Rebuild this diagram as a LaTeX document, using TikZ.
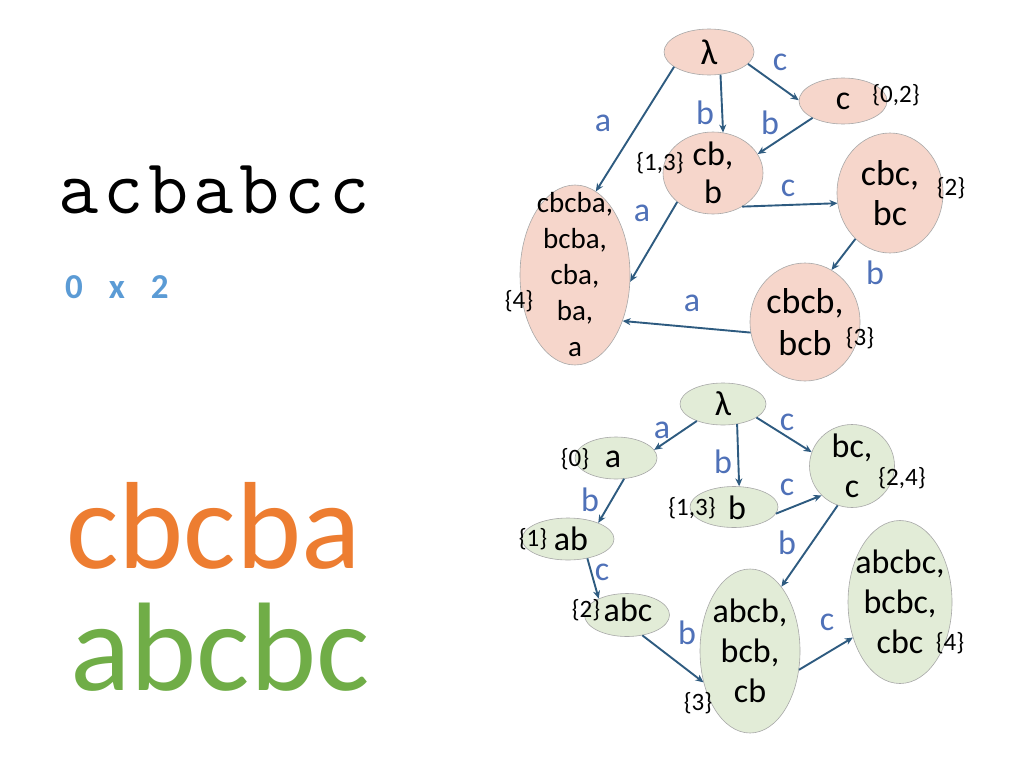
\documentclass[tikz,border=0pt]{standalone}
\usepackage{fontspec}
\setmainfont{Carlito}
\usetikzlibrary{shapes.geometric,arrows.meta}
\definecolor{pinkfill}{HTML}{F6D6CB}
\definecolor{greenfill}{HTML}{E2ECD7}
\definecolor{edgegray}{HTML}{A8A8A8}
\definecolor{arrowc}{HTML}{2E5B80}
\definecolor{labc}{HTML}{4F71B8}
\definecolor{numc}{HTML}{5B9BD5}
\definecolor{orangec}{HTML}{ED7D31}
\definecolor{greenc}{HTML}{70AD47}
\tikzset{
  pk/.style={ellipse, draw=edgegray, line width=0.6pt, fill=pinkfill, inner sep=0pt},
  gn/.style={ellipse, draw=edgegray, line width=0.6pt, fill=greenfill, inner sep=0pt},
  nt/.style={inner sep=0pt, align=center, font=\fontsize{#1}{#1}\selectfont},
  arr/.style={draw=arrowc, line width=1.9pt, -{Stealth[length=8pt,width=7pt]}},
  elab/.style={text=labc, inner sep=0pt, font=\fontsize{34}{34}\selectfont},
  setl/.style={inner sep=0pt, font=\fontsize{25}{25}\selectfont},
}
\newcommand{\lsp}{\kern5pt\relax}
\begin{document}
\begin{tikzpicture}[x=1pt,y=-1pt]
\fill[white] (0,0) rectangle (1024,768);
\useasboundingbox (0,0) rectangle (1024,768);

% left texts
\node[anchor=base, inner sep=0pt, font=\ttfamily\fontsize{78}{78}\selectfont] (word) at (214,213) {a\lsp c\lsp b\lsp a\lsp b\lsp c\lsp c};
\node[anchor=base west, inner sep=0pt, text=numc, font=\bfseries\fontsize{35}{35}\selectfont] (nums) at (65,298) {0\hspace{26pt}x\hspace{26pt}2};
\node[anchor=base west, inner sep=0pt, text=orangec, font=\fontsize{124}{124}\selectfont] (w1) at (66,568) {cbcba};
\node[anchor=base west, inner sep=0pt, text=greenc, font=\fontsize{126}{126}\selectfont] (w2) at (70,690) {abcbc};

% top graph
\node[pk, minimum width=90, minimum height=46, label={[nt=36]center:λ}] (t0) at (709,52) {};
\node[pk, minimum width=88, minimum height=46, label={[nt=34]center:c}] (tc) at (843,101) {};
\node[pk, minimum width=100, minimum height=82, label={[nt=34, font=\fontsize{34}{38}\selectfont]center:{cb,\\b}}] (tcb) at (713,173) {};
\node[pk, minimum width=106, minimum height=120, label={[nt=36, font=\fontsize{36}{40}\selectfont]center:{cbc,\\bc}}] (tcbc) at (890,193) {};
\node[pk, minimum width=110, minimum height=180, label={[nt=29, font=\fontsize{29}{36}\selectfont]center:{cbcba,\\bcba,\\cba,\\ba,\\a}}] (t4) at (575,275) {};
\node[pk, minimum width=110, minimum height=118, label={[nt=36, font=\fontsize{36}{42}\selectfont]center:{cbcb,\\bcb}}] (tcbcb) at (805,322) {};

\node[setl] (s02) at (896,95) {\{0,2\}};
\node[setl] (s2) at (951,188) {\{2\}};
\node[setl] (s13) at (660,163) {\{1,3\}};
\node[setl] (s4) at (519,301) {\{4\}};
\node[setl] (s3) at (860,338) {\{3\}};

\draw[arr] (t0.203) -- (t4.76);
\draw[arr] (t0.-63) -- (tcb.76);
\draw[arr] (t0.-17) -- (tc.179);
\draw[arr] (tc.209) -- (tcb.23);
\draw[arr] (tcb.219) -- (t4.-7);
\draw[arr] (tcb.-49) -- (tcbc.191);
\draw[arr] (tcbc.233) -- (tcbcb.63);
\draw[arr] (tcbcb.191) -- (t4.-44);

\node[elab] (la1) at (603,123) {a};
\node[elab] (lb1) at (705,113) {b};
\node[elab] (lc1) at (780,62) {c};
\node[elab] (lb2) at (770,123) {b};
\node[elab] (la2) at (642,213) {a};
\node[elab] (lc2) at (788,188) {c};
\node[elab] (lb3) at (875,273) {b};
\node[elab] (la3) at (692,303) {a};

% bottom graph
\node[gn, minimum width=86, minimum height=42, label={[nt=35]center:λ}] (b0) at (723,404) {};
\node[gn, minimum width=82, minimum height=42] (ba) at (616,458) {};
\node[nt=34] (bat) at (613,459) {a};
\node[gn, minimum width=88, minimum height=41] (bb) at (734,507) {};
\node[nt=34] (bbt) at (737,508) {b};
\node[gn, minimum width=92, minimum height=42] (bab) at (568,539) {};
\node[nt=34] (babt) at (571,539) {ab};
\node[gn, minimum width=85, minimum height=43] (babc) at (627,615) {};
\node[nt=34] (babct) at (628,610) {abc};
\node[gn, minimum width=85, minimum height=83, label={[nt=34, font=\fontsize{34}{40}\selectfont]center:{bc,\\c}}] (bbc) at (852,466) {};
\node[gn, minimum width=100, minimum height=164, label={[nt=34, font=\fontsize{34}{40}\selectfont]center:{abcb,\\bcb,\\cb}}] (babcb) at (750,651) {};
\node[gn, minimum width=104, minimum height=163, label={[nt=34, font=\fontsize{34}{40}\selectfont]center:{abcbc,\\bcbc,\\cbc}}] (babcbc) at (900,602) {};

\node[setl] (g0) at (575,459) {\{0\}};
\node[setl] (g13) at (692,508) {\{1,3\}};
\node[setl] (g1) at (533,539) {\{1\}};
\node[setl] (g2) at (586,610) {\{2\}};
\node[setl] (g24) at (902,478) {\{2,4\}};
\node[setl] (g3) at (698,703) {\{3\}};
\node[setl] (g4) at (950,643) {\{4\}};

\draw[arr] (b0.213) -- (ba.12);
\draw[arr] (b0.-55) -- (bb.76);
\draw[arr] (b0.-22) -- (bbc.161);
\draw[arr] (ba.-69) -- (bab.28);
\draw[arr] (bb.-9) -- (bbc.224);
\draw[arr] (bab.-45) -- (babc.150);
\draw[arr] (babc.-53) -- (babcb.214);
\draw[arr] (bbc.250) -- (babcb.64);
\draw[arr] (babcb.-21) -- (babcbc.217);

\node[elab] (ga1) at (662,430) {a};
\node[elab] (gb1) at (723,462) {b};
\node[elab] (gc1) at (787,422) {c};
\node[elab] (gb2) at (590,500) {b};
\node[elab] (gc2) at (787,487) {c};
\node[elab] (gb3) at (787,543) {b};
\node[elab] (gc3) at (602,572) {c};
\node[elab] (gb4) at (687,633) {b};
\node[elab] (gc4) at (827,622) {c};
\end{tikzpicture}
\end{document}
